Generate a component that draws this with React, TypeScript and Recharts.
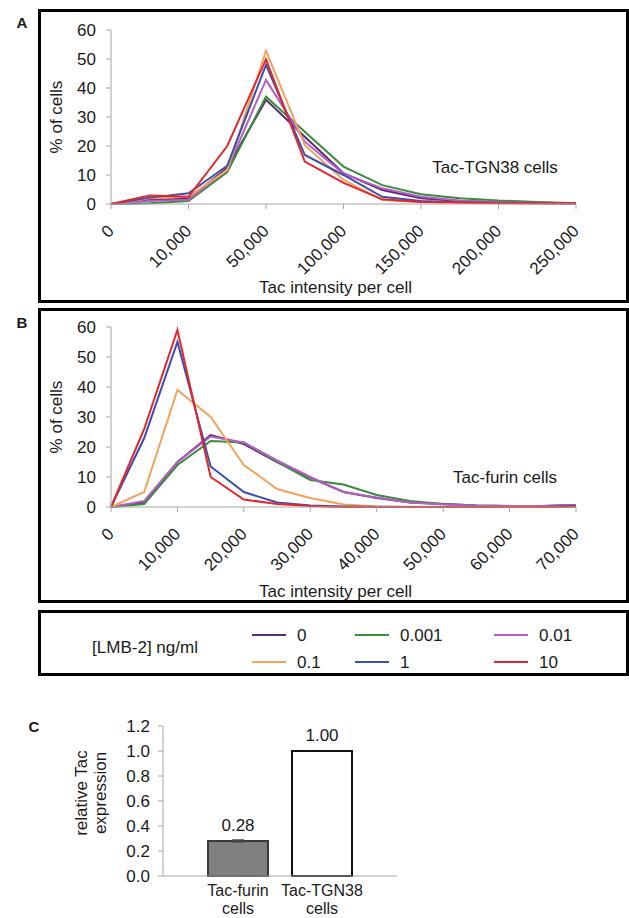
import { LineChart, Line, XAxis, YAxis, BarChart, Bar, Cell, ErrorBar, LabelList } from 'recharts'

const FONT = '"Liberation Sans", Arial, Helvetica, sans-serif'
const INK = '#1a1a1a'
const AXIS = '#a6a6a6'

// LMB-2 doses (ng/ml) and their line colours
const DOSES = ['0', '0.001', '0.01', '0.1', '1', '10']
const DOSE_COLORS = ['#5c2a73', '#3a8c3a', '#b35fc4', '#f3a35c', '#3b4fae', '#e3262b']

// Panel A — Tac-TGN38 cells
const TGN38_BINS = ['0', '5,000', '10,000', '30,000', '50,000', '75,000', '100,000', '125,000', '150,000', '175,000', '200,000', '225,000', '250,000']
const TGN38_D0 = [0, 1.5, 1.8, 12.5, 35.9, 23.2, 10.6, 4.8, 2, 1, 0.6, 0.4, 0.3]
const TGN38_D0001 = [0, 0.3, 1, 11, 37, 24.9, 12.9, 6.5, 3.4, 2, 1.2, 0.7, 0.3]
const TGN38_D001 = [0, 1, 1.5, 12, 42.8, 21.5, 10.5, 5.4, 2.5, 1.2, 0.7, 0.4, 0.3]
const TGN38_D01 = [0, 2, 2.5, 11.7, 52.9, 20.3, 8.3, 1.4, 0.7, 0.5, 0.4, 0.3, 0.2]
const TGN38_D1 = [0, 2.2, 3.7, 13.2, 48, 16.9, 10, 2.5, 1, 0.6, 0.4, 0.3, 0.2]
const TGN38_D10 = [0, 2.9, 2.5, 20, 49.9, 14.6, 7.3, 1.6, 0.7, 0.5, 0.3, 0.3, 0.3]

// Panel B — Tac-furin cells
const FURIN_BINS = ['0', '5,000', '10,000', '15,000', '20,000', '25,000', '30,000', '35,000', '40,000', '45,000', '50,000', '55,000', '60,000', '65,000', '70,000']
const FURIN_D0 = [0, 1.5, 15, 24, 21, 15, 9.8, 5, 3, 1.5, 1, 0.5, 0.3, 0.3, 0.7]
const FURIN_D0001 = [0, 1, 14, 22, 21.5, 15, 9, 7.5, 4, 2, 1, 0.5, 0.3, 0.3, 0.5]
const FURIN_D001 = [0, 2, 15, 23.5, 21.5, 15.5, 10, 5, 3.2, 1.5, 0.8, 0.4, 0.3, 0.3, 0.6]
const FURIN_D01 = [0, 5, 39, 30, 14, 6, 3, 0.8, 0.2, 0.1, 0, 0, 0, 0, 0]
const FURIN_D1 = [0, 23, 55, 13.5, 5, 1.5, 0.5, 0.2, 0.1, 0, 0, 0, 0, 0, 0.3]
const FURIN_D10 = [0, 26, 59, 10, 2.5, 1, 0.3, 0, 0, 0, 0, 0, 0, 0, 0.2]

const PCT_TICKS = [0, 10, 20, 30, 40, 50, 60]

// Panel C — relative Tac expression
const CELL_LINES = ['Tac-furin\ncells', 'Tac-TGN38\ncells']
const REL_EXPR = [0.28, 1.0]
const REL_ERR = [0.01, 0]
const REL_TICKS = [0, 0.2, 0.4, 0.6, 0.8, 1.0, 1.2]
const BAR_FILLS = ['#808080', '#ffffff']
const BAR_STROKES = ['#3a3a3a', '#111111']

const buildRows = (bins: string[], series: number[][]) =>
  bins.map((bin, i) => {
    const row: Record<string, number | string> = { bin }
    DOSES.forEach((d, k) => { row['d' + d] = series[k][i] })
    return row
  })

const tgn38Rows = buildRows(TGN38_BINS, [TGN38_D0, TGN38_D0001, TGN38_D001, TGN38_D01, TGN38_D1, TGN38_D10])
const furinRows = buildRows(FURIN_BINS, [FURIN_D0, FURIN_D0001, FURIN_D001, FURIN_D01, FURIN_D1, FURIN_D10])
const relRows = CELL_LINES.map((name, i) => ({ name, value: REL_EXPR[i], err: REL_ERR[i] }))

function AngledTick(props: any) {
  const { x, y, payload } = props
  const ax = x + 4
  const ay = y + 21
  return (
    <text x={ax} y={ay} textAnchor="end" fill={INK} fontSize={17} transform={`rotate(-45 ${ax} ${ay})`}>
      {payload.value}
    </text>
  )
}

function TwoLineTick(props: any) {
  const { x, y, payload } = props
  const lines = String(payload.value).split('\n')
  return (
    <text x={x} y={y} textAnchor="middle" fill={INK} fontSize={16}>
      {lines.map((l, i) => (
        <tspan key={i} x={x} dy={i === 0 ? 12 : 18}>{l}</tspan>
      ))}
    </text>
  )
}

function Box({ left, top, width, height }: { left: number; top: number; width: number; height: number }) {
  return (
    <div style={{ position: 'absolute', left, top, width, height, border: '3px solid #000', boxSizing: 'border-box', pointerEvents: 'none' }} />
  )
}

function Note({ x, y, text, size = 17, bold = false }: { x: number; y: number; text: string; size?: number; bold?: boolean }) {
  return (
    <div style={{ position: 'absolute', left: x, top: y, transform: 'translate(-50%, -50%)', fontSize: size, fontWeight: bold ? 700 : 400, lineHeight: 1, whiteSpace: 'nowrap', color: INK }}>
      {text}
    </div>
  )
}

function Histogram({ rows, top, height, plotTop, axisHeight, labelOffset }: { rows: any[]; top: number; height: number; plotTop: number; axisHeight: number; labelOffset: number }) {
  return (
    <div style={{ position: 'absolute', left: 38, top }}>
      <LineChart width={591} height={height} data={rows} margin={{ top: plotTop, right: 53, left: 0, bottom: 0 }}>
        <XAxis
          dataKey="bin"
          scale="point"
          interval={1}
          height={axisHeight}
          stroke={AXIS}
          tickSize={5}
          tick={<AngledTick />}
          label={{ value: 'Tac intensity per cell', position: 'insideBottom', offset: labelOffset, dx: -8, fill: INK, fontSize: 17 }}
        />
        <YAxis
          width={73}
          domain={[0, 60]}
          ticks={PCT_TICKS}
          stroke={AXIS}
          tickSize={5}
          tickMargin={10}
          tick={{ fill: INK, fontSize: 17 }}
          label={{ value: '% of cells', angle: -90, position: 'insideLeft', offset: 18, fill: INK, fontSize: 17, style: { textAnchor: 'middle' } }}
        />
        {DOSES.map((d, k) => (
          <Line key={d} type="linear" dataKey={'d' + d} stroke={DOSE_COLORS[k]} strokeWidth={2} dot={false} isAnimationActive={false} />
        ))}
      </LineChart>
    </div>
  )
}

export default function App() {
  return (
    <div style={{ position: 'absolute', left: 0, top: 0, width: 629, height: 918, overflow: 'hidden', background: '#fff', fontFamily: FONT, color: INK }}>
      {/* A */}
      <Box left={38} top={9} width={591} height={294} />
      <Histogram rows={tgn38Rows} top={9} height={294} plotTop={21} axisHeight={99} labelOffset={10} />
      <Note x={22} y={22} text="A" size={15} bold />
      <Note x={495} y={167} text="Tac-TGN38 cells" />

      {/* B */}
      <Box left={38} top={308} width={591} height={295} />
      <Histogram rows={furinRows} top={308} height={295} plotTop={19} axisHeight={96} labelOffset={6} />
      <Note x={22} y={322} text="B" size={15} bold />
      <Note x={505} y={477} text="Tac-furin cells" />

      {/* legend */}
      <Box left={38} top={610} width={591} height={66} />
      <Note x={145} y={647} text="[LMB-2] ng/ml" />
      {DOSES.map((d, k) => {
        const col = k % 3
        const row = Math.floor(k / 3)
        const lx = [252, 355, 494][col]
        const ly = [635, 662][row]
        return (
          <div key={d} style={{ position: 'absolute', left: lx, top: ly - 10, height: 20, display: 'flex', alignItems: 'center', fontSize: 17 }}>
            <div style={{ width: 34, height: 2, background: DOSE_COLORS[k] }} />
            <span style={{ marginLeft: 11, lineHeight: 1 }}>{d}</span>
          </div>
        )
      })}

      {/* C */}
      <Note x={34} y={726} text="C" size={15} bold />
      <div style={{ position: 'absolute', left: 91, top: 793, transform: 'translate(-50%, -50%) rotate(-90deg)', fontSize: 17, lineHeight: '19px', textAlign: 'center', whiteSpace: 'nowrap' }}>
        relative Tac<br />expression
      </div>
      <div style={{ position: 'absolute', left: 0, top: 700 }}>
        <BarChart width={420} height={218} data={relRows} margin={{ top: 26, right: 23, left: 0, bottom: 0 }}>
          <XAxis dataKey="name" padding={{ left: 33, right: 33 }} height={42} stroke={AXIS} tickLine={false} tick={<TwoLineTick />} />
          <YAxis width={163} domain={[0, 1.2]} ticks={REL_TICKS} stroke={AXIS} tickSize={5} tickMargin={8} tick={{ fill: INK, fontSize: 17 }} tickFormatter={(v: number) => v.toFixed(1)} />
          <Bar dataKey="value" barSize={60} strokeWidth={2} isAnimationActive={false}>
            {relRows.map((r, i) => (
              <Cell key={r.name} fill={BAR_FILLS[i]} stroke={BAR_STROKES[i]} />
            ))}
            <ErrorBar dataKey="err" width={6} stroke="#555" strokeWidth={1} />
            <LabelList dataKey="value" position="top" offset={10} fill={INK} fontSize={17} formatter={(v: any) => Number(v).toFixed(2)} />
          </Bar>
        </BarChart>
      </div>
    </div>
  )
}
